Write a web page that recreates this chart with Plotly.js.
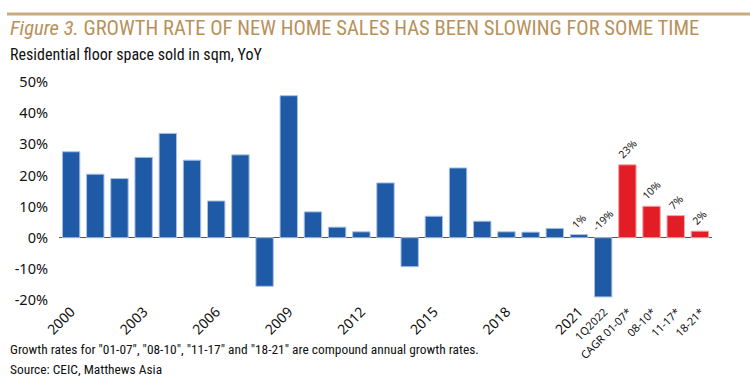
<!DOCTYPE html>
<html><head><meta charset="utf-8">
<script src="https://cdn.plot.ly/plotly-3.0.1.min.js"></script>
<style>body{margin:0;background:#fff}#chart{width:750px;height:382px}</style>
</head><body><div id="chart"></div>
<script>
const categories = ["2000","2001","2002","2003","2004","2005","2006","2007","2008","2009","2010","2011","2012","2013","2014","2015","2016","2017","2018","2019","2020","2021","1Q2022","CAGR 01-07*","08-10*","11-17*","18-21*"];
const values = [27.6,20.4,19.0,25.8,33.5,24.9,11.8,26.6,-15.6,45.6,8.3,3.4,1.9,17.6,-9.3,6.9,22.4,5.3,1.9,1.8,3.0,1.0,-19.0,23.4,10.1,7.1,2.1];
const valueLabels = ["","","","","","","","","","","","","","","","","","","","","","1%","-19%","23%","10%","7%","2%"];
const tickLabels = ["2000","2003","2006","2009","2012","2015","2018","2021","1Q2022","CAGR 01-07*","08-10*","11-17*","18-21*"];
const yTickValues = [-20,-10,0,10,20,30,40,50];
const cagrCategories = ["CAGR 01-07*","08-10*","11-17*","18-21*"];

const NARROW = "'Liberation Sans Narrow', 'Roboto Condensed', 'Noto Sans', sans-serif";
const FONT = "'Noto Sans', 'Open Sans', sans-serif";
const L = 59, R = 712, T = 82, B = 300;
const px = p => (p - L) / (R - L);
const py = p => (B - p) / (B - T);

const isCagr = categories.map(c => cagrCategories.includes(c));
const barColors = isCagr.map(r => r ? "#E31D25" : "#1F5AA6");
const lineColors = isCagr.map(r => r ? "#F4A3A6" : "#A9C1E3");
const idx = categories.map((c, i) => i);
const tickText = tickLabels.map(t => /^\d{4}$/.test(t) ? t : '<span style="font-size:11px">' + t + '</span>');

const annotations = [];
categories.forEach((c, i) => {
  if (valueLabels[i]) {
    annotations.push({x: i, y: Math.max(values[i], 0), xref: "x", yref: "y", text: valueLabels[i],
      showarrow: false, textangle: -45, xanchor: "center", yanchor: "bottom", yshift: 1,
      font: {family: FONT, size: 10.5, color: "#222"}});
  }
});
annotations.push(
  {xref: "paper", yref: "paper", x: px(8), y: py(28), xanchor: "left", yanchor: "middle", showarrow: false,
   text: "<i>Figure 3.</i> GROWTH RATE OF NEW HOME SALES HAS BEEN SLOWING FOR SOME TIME",
   font: {family: NARROW, size: 20.6, color: "#B8915A"}},
  {xref: "paper", yref: "paper", x: px(8), y: py(54), xanchor: "left", yanchor: "middle", showarrow: false,
   text: "Residential floor space sold in sqm, YoY", font: {family: NARROW, size: 16, color: "#111"}},
  {xref: "paper", yref: "paper", x: px(8), y: py(349), xanchor: "left", yanchor: "middle", showarrow: false,
   text: 'Growth rates for "01-07", "08-10", "11-17" and "18-21" are compound annual growth rates.',
   font: {family: NARROW, size: 13.4, color: "#111"}},
  {xref: "paper", yref: "paper", x: px(8), y: py(369), xanchor: "left", yanchor: "middle", showarrow: false,
   text: "Source: CEIC, Matthews Asia", font: {family: NARROW, size: 13.4, color: "#111"}}
);

const data = [{
  type: "bar", x: idx, y: values,
  marker: {color: barColors, line: {color: lineColors, width: 1}},
  hoverinfo: "y"
}];

const layout = {
  width: 750, height: 382,
  margin: {l: L, r: 750 - R, t: T, b: 382 - B},
  paper_bgcolor: "#fff", plot_bgcolor: "#fff",
  bargap: 0.28,
  showlegend: false,
  xaxis: {type: "linear", range: [-0.5, categories.length - 0.5], tickmode: "array",
    tickvals: tickLabels.map(t => categories.indexOf(t)), ticktext: tickText,
    tickangle: -45, showgrid: false, showline: false, zeroline: false, ticks: "",
    tickfont: {family: FONT, size: 14, color: "#111"}, automargin: false},
  yaxis: {range: [-20, 50], tickmode: "array", tickvals: yTickValues, ticktext: yTickValues.map(v => v + "%"),
    showgrid: false, showline: false, zeroline: true, zerolinecolor: "#555", zerolinewidth: 1.5,
    tickfont: {family: FONT, size: 14.5, color: "#111"}, ticklabelstandoff: 10, automargin: false},
  shapes: [{type: "line", xref: "paper", yref: "paper", x0: px(7), x1: px(750), y0: py(14), y1: py(14),
    line: {color: "#C9AB82", width: 3}}],
  annotations: annotations
};
Plotly.newPlot("chart", data, layout, {displayModeBar: false, staticPlot: true});
</script></body></html>
